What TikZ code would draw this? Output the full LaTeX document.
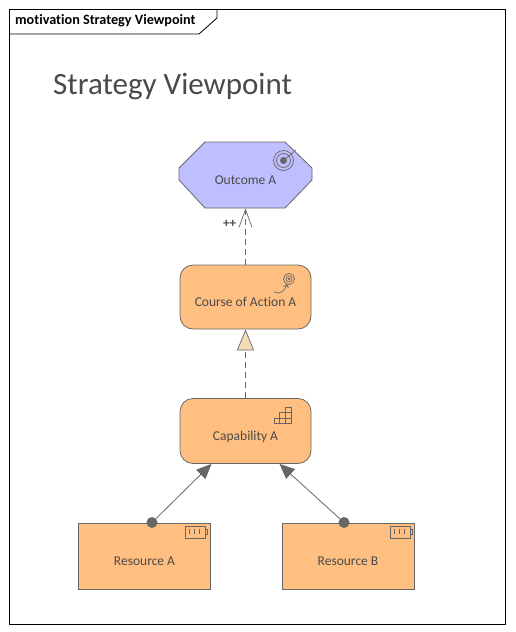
\documentclass[tikz,border=0pt]{standalone}
\usepackage{fontspec}
\setmainfont{Carlito}[Ligatures=NoCommon]
\usetikzlibrary{arrows.meta}
\definecolor{elemorange}{HTML}{FFBF80}
\definecolor{elempurple}{HTML}{BFBFFF}
\definecolor{elemline}{HTML}{666666}
\definecolor{elemtext}{HTML}{4A4A4A}
\definecolor{trifill}{HTML}{F5DDB5}
\begin{document}
\begin{tikzpicture}[
        x=1pt, y=-1pt,
        element/.style={draw=elemline, fill=elemorange, line width=0.8pt, minimum width=132pt, minimum height=66pt, inner sep=0pt, align=center, text=elemtext, font=\fontsize{13.5}{15}\selectfont, text height=23.5pt, text depth=4pt},
        goal/.style={element, draw=none, fill=none},
        goal_shape/.style={draw=elemline, fill=elempurple, line width=0.8pt},
        rounded_element/.style={element, rounded corners=13pt},
        icon/.style={draw=elemline, line width=0.7pt},
        dotnode/.style={circle, fill=elemline, minimum size=11pt, inner sep=0pt},
        influence/.style={draw=elemline, line width=0.7pt, dash pattern=on 6pt off 4pt, -{Straight Barb[length=18pt, width=13pt, line width=0.7pt]}},
        realize/.style={draw=elemline, line width=0.7pt, dash pattern=on 6pt off 4pt, -{Triangle[length=21pt, width=17pt, fill=trifill, line width=0.7pt]}},
        assign/.style={draw=elemline, line width=0.8pt, -{Triangle[length=15pt, width=13pt, fill=elemline]}},
        node distance=122pt
    ]
        \useasboundingbox (0,0) rectangle (515,632);
        % frame
        \draw[black, line width=0.8pt] (9,9) rectangle (505,624);
        \draw[black, line width=0.8pt] (9,34) -- (199,34) -- (217,18) -- (217,9);
        \node[anchor=west, inner sep=0pt, font=\fontsize{14.2}{16}\selectfont\bfseries] (frametitle) at (15,21) {motivation Strategy Viewpoint};
        \node[anchor=west, inner sep=0pt, text=elemtext, font=\fontsize{31}{36}\selectfont] (title) at (53,86) {Strategy Viewpoint};

        \draw[goal_shape] (205,142) -- (285,142) -- (312,168) -- (312,180) -- (285,208) -- (205,208) -- (179,180) -- (179,168) -- cycle;
        \node[goal] (outcome) at (245.5,175) {Outcome A};
        \node[rounded_element, below of=outcome, minimum width=131pt, minimum height=64pt] (course) {Course of Action A};
        \node[rounded_element, below of=course, node distance=134pt, minimum width=131pt, minimum height=65pt] (capability) {Capability A};
        \node[element, at={(144.5,556)}] (resa) {Resource A};
        \node[element, at={(348,556)}] (resb) {Resource B};

        \node[dotnode] (dota) at (152,522.5) {};
        \node[dotnode] (dotb) at (344,522.5) {};

        \draw[influence] (course) -- node[pos=0.78, left, xshift=-3pt, yshift=-3pt, inner sep=6pt, text=elemtext, font=\fontsize{13}{14}\selectfont\bfseries] {++} (outcome);
        \draw[realize] (capability) -- (course);
        \draw[assign] (dota) -- ([xshift=-34pt]capability.south);
        \draw[assign] (dotb) -- ([xshift=34pt]capability.south);

        % icons
        \draw[icon] (283.5,160.5) circle (10pt) (283.5,160.5) circle (7pt);
        \fill[elemline] (283.5,160.5) circle (3.5pt);
        \draw[icon] (283.5,160.5) -- (296,150);
        \draw[icon] (289,279) circle (5.5pt) (289,279) circle (3pt) (289,279) circle (1pt);
        \draw[icon, -{Straight Barb[length=3pt, width=5pt]}] (274,292) .. controls (280,295) and (285,291) .. (287,284);
        \draw[icon] (274,423) rectangle (291,418) (279.5,423) rectangle (291,412.5) (285,423) rectangle (291,407);
        \draw[icon] (279.5,418) -- (291,418) (285,412.5) -- (291,412.5);
        \draw[icon] (185,526) rectangle (205,538) (205,529) rectangle (207,534);
        \draw[icon] (189.5,529) -- (189.5,534) (194,529) -- (194,534) (199,529) -- (199,534);
        \draw[icon] (390,526) rectangle (410,538) (410,529) rectangle (412,534);
        \draw[icon] (394.5,529) -- (394.5,534) (399,529) -- (399,534) (404,529) -- (404,534);
    \end{tikzpicture}
\end{document}
